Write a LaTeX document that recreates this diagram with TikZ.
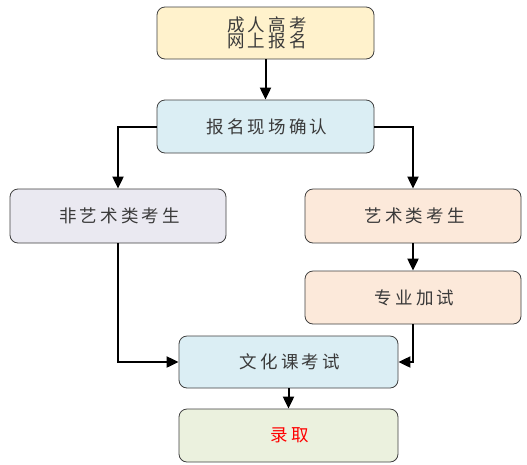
\documentclass[tikz,border=0pt]{standalone}
\usepackage{fontspec}
\newfontfamily\cjk[LetterSpace=18]{Noto Sans CJK SC}
\usetikzlibrary{arrows.meta}
\definecolor{txtgray}{HTML}{3A3A3A}
\definecolor{cyellow}{HTML}{FFF2CC}
\definecolor{cblue}{HTML}{DBEEF4}
\definecolor{clav}{HTML}{EAE9F1}
\definecolor{cpeach}{HTML}{FCE9DA}
\definecolor{cgreen}{HTML}{EBF1DE}
\definecolor{bordergray}{HTML}{404040}
\tikzset{
  box/.style={draw=bordergray, line width=0.8pt, rounded corners=8pt,
    minimum width=217pt, minimum height=53pt, inner sep=0pt,
    font=\cjk\fontsize{17.5}{16.5}\selectfont, text=txtgray, align=center},
  conn/.style={line width=2pt, draw=black, -{Triangle[length=12pt,width=11pt]}}
}
\begin{document}
\begin{tikzpicture}[x=1pt,y=-1pt]
\useasboundingbox[fill=white] (0,0) rectangle (527,464);
\node[box, fill=cyellow, minimum height=52pt] (b1) at (265.5,33) {\hspace{3pt}成人高考\\\hspace{3pt}网上报名};
\node[box, fill=cblue] (b2) at (265.5,126.5) {\hspace{3pt}报名现场确认};
\node[box, fill=clav, minimum width=216pt, minimum height=54pt] (b3) at (118,216) {\hspace{3pt}非艺术类考生};
\node[box, fill=cpeach, minimum width=216pt, minimum height=54pt] (b4) at (413,216) {\hspace{3pt}艺术类考生};
\node[box, fill=cpeach, minimum width=216pt] (b5) at (413,297.5) {\hspace{3pt}专业加试};
\node[box, fill=cblue, minimum width=219pt, minimum height=52pt] (b6) at (288.5,362) {\hspace{3pt}文化课考试};
\node[box, fill=cgreen, minimum width=219pt] (b7) at (288.5,435.5) {\hspace{3pt}\textcolor{red}{录取}};
\draw[conn] (b1.south) -- (b2.north);
\draw[conn] (b2.west) -| (b3.north);
\draw[conn] (b2.east) -| (b4.north);
\draw[conn] (b4.south) -- (b5.north);
\draw[conn] (b3.south) |- (b6.west);
\draw[conn] (b5.south) |- (b6.east);
\draw[conn] (b6.south) -- (b7.north);
\end{tikzpicture}
\end{document}
